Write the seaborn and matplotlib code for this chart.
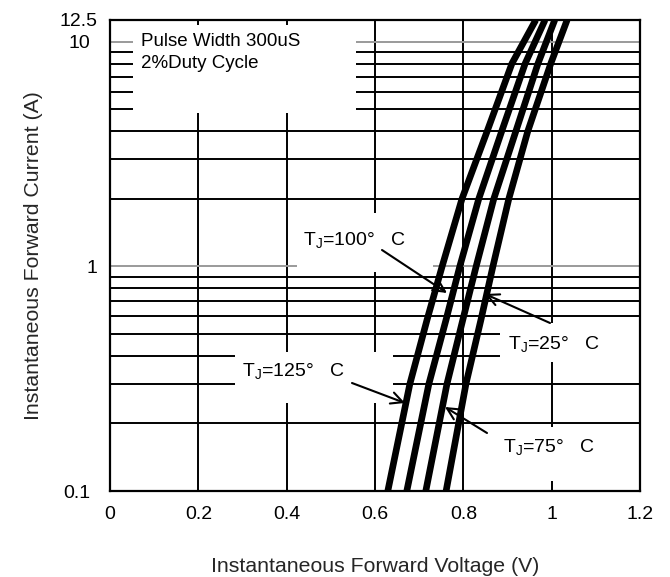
import numpy as np
import pandas as pd
import matplotlib
matplotlib.use("Agg")
import matplotlib.pyplot as plt
import matplotlib.transforms as mtransforms
import seaborn as sns
from matplotlib.patches import Rectangle

# ---------------- data ----------------
current_a = [0.1, 0.3, 0.58, 1, 2, 4, 8, 12.5]
vf_tj125 = [0.629, 0.679, 0.718, 0.752, 0.797, 0.854, 0.910, 0.964]
vf_tj100 = [0.672, 0.722, 0.761, 0.792, 0.835, 0.887, 0.940, 0.985]
vf_tj75 = [0.715, 0.763, 0.799, 0.829, 0.869, 0.919, 0.969, 1.007]
vf_tj25 = [0.761, 0.806, 0.840, 0.867, 0.903, 0.946, 0.998, 1.035]
tj_names = ["125", "100", "75", "25"]

x_ticks = [0, 0.2, 0.4, 0.6, 0.8, 1.0, 1.2]
x_tick_labels = ["0", "0.2", "0.4", "0.6", "0.8", "1", "1.2"]
y_ticks = [0.1, 1, 10, 12.5]
y_tick_labels = ["0.1", "1", "10", "12.5"]
y_minor_ticks = [0.2, 0.3, 0.4, 0.5, 0.6, 0.7, 0.8, 0.9,
                 2, 3, 4, 5, 6, 7, 8, 9]

rows = []
for name, vf in zip(tj_names, [vf_tj125, vf_tj100, vf_tj75, vf_tj25]):
    for i, v in zip(current_a, vf):
        rows.append({"Tj": name, "V": v, "I": i})
df = pd.DataFrame(rows)

# ---------------- style ----------------
sns.set_theme(style="white")
plt.rcParams["font.family"] = ["Liberation Sans", "DejaVu Sans"]
plt.rcParams["mathtext.fontset"] = "custom"
plt.rcParams["mathtext.rm"] = "Liberation Sans"

W, H = 670, 577
fig = plt.figure(figsize=(W / 100, H / 100), dpi=100)
ax = fig.add_axes([110 / W, 1 - 491 / H, 530 / W, 471 / H])
ax.set_facecolor("white")

sns.lineplot(data=df, x="V", y="I", hue="Tj", units="Tj", estimator=None,
             palette=["black"] * 4, legend=False, linewidth=4.8,
             sort=False, ax=ax, zorder=3)
for ln in ax.lines:
    ln.set_solid_joinstyle("round")
    ln.set_solid_capstyle("butt")

ax.set_yscale("log")
ax.set_xlim(0, 1.2)
ax.set_ylim(0.1, 12.5)

ax.set_xticks(x_ticks)
ax.set_xticklabels(x_tick_labels)
ax.set_yticks(y_ticks)
ax.set_yticklabels(y_tick_labels)
ax.set_yticks(y_minor_ticks, minor=True)
ax.yaxis.set_minor_formatter(matplotlib.ticker.NullFormatter())

ax.set_axisbelow(True)
ax.grid(True, which="major", axis="x", color="black", linewidth=1.4)
ax.grid(True, which="major", axis="y", color="#9a9a9a", linewidth=1.4)
ax.grid(True, which="minor", axis="y", color="black", linewidth=1.4)

ax.tick_params(axis="both", which="both", length=0, labelsize=14,
               colors="black")
ax.tick_params(axis="x", pad=11)
ax.tick_params(axis="y", pad=9)

# the reference shifts a couple of y labels slightly left
for lab in ax.get_yticklabels():
    if lab.get_text() in ("10", "0.1"):
        lab.set_transform(lab.get_transform() +
                          mtransforms.ScaledTranslation(-7 / 100, 0,
                                                        fig.dpi_scale_trans))

for s in ax.spines.values():
    s.set_visible(True)
    s.set_color("black")
    s.set_linewidth(1.6)
    s.set_zorder(5)

ax.set_xlabel("Instantaneous Forward Voltage (V)", fontsize=15.3, labelpad=24)
ax.set_ylabel("Instantaneous Forward Current (A)", fontsize=15.3, labelpad=12)


def px2ax(px, py):
    return ((px - 110) / 530, (491 - py) / 471)


# white masks behind annotation texts (pixel boxes)
masks = [(133, 25, 356, 113), (297, 213, 433, 272), (500, 323, 640, 362),
         (235, 352, 393, 403), (490, 427, 630, 481)]
for x0, y0, x1, y1 in masks:
    a0 = px2ax(x0, y1)
    a1 = px2ax(x1, y0)
    ax.add_patch(Rectangle(a0, a1[0] - a0[0], a1[1] - a0[1],
                           transform=ax.transAxes, facecolor="white",
                           edgecolor="none", zorder=2))

tx = dict(fontsize=13.5, color="black", va="center", ha="left",
          transform=ax.transAxes, zorder=6)
ax.text(*px2ax(141, 42), "Pulse Width 300uS", **tx)
ax.text(*px2ax(141, 63), "2%Duty Cycle", **tx)

labels = [("100", (303, 241), (382, 250), (447, 293)),
          ("25", (508, 345), (550, 323), (485, 294)),
          ("125", (242, 372), (352, 383), (405, 403)),
          ("75", (503, 448), (487, 433), (445, 407))]
tj_style = dict(tx, fontsize=14)
for t, tp, a_from, a_to in labels:
    ax.text(*px2ax(*tp), "T$_\\mathregular{J}$=" + t + "°   C", **tj_style)
    ax.annotate("", xy=px2ax(*a_to), xycoords="axes fraction",
                xytext=px2ax(*a_from), textcoords="axes fraction",
                arrowprops=dict(arrowstyle="->,head_length=0.7,head_width=0.35",
                                color="black", lw=1.5,
                                shrinkA=0, shrinkB=0), zorder=6)

fig.savefig("out.png", dpi=100)
